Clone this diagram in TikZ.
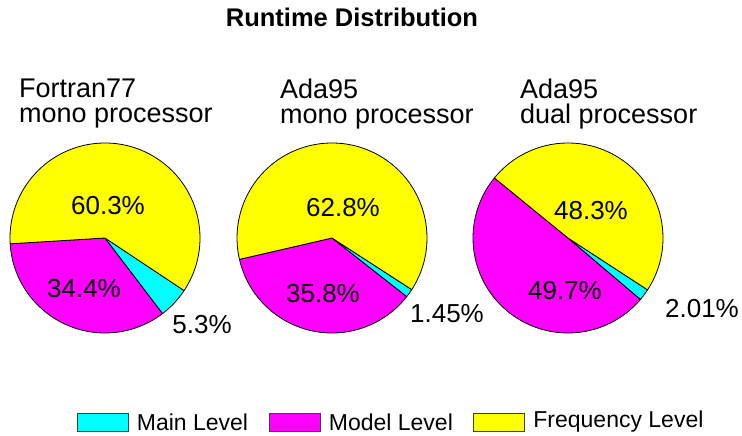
\documentclass[tikz,border=0pt]{standalone}
\usepackage{fontspec}
\setmainfont{Liberation Sans}
\usetikzlibrary{positioning}
\definecolor{mainc}{RGB}{0,255,255}
\definecolor{modelc}{RGB}{255,0,255}
\definecolor{freqc}{RGB}{255,255,0}
\tikzset{%
   slice/.style={
      draw=black,
      line width=0.8pt,
      line join=round
   },
   pct/.style={
      anchor=base,
      inner sep=0pt,
      font=\fontsize{26}{26}\selectfont
   },
   lbl/.style={
      anchor=north west,
      inner sep=0pt,
      align=left,
      font=\fontsize{27}{25}\selectfont
   },
   legbox/.style={
      draw=black!75,
      minimum width=51pt,
      minimum height=18pt,
      inner sep=0pt
   },
   legtext/.style={
      inner sep=0pt,
      font=\fontsize{23}{23}\selectfont
   },
}
% centre, start angle, end angle, colour
\newcommand{\pieslice}[4]{%
   \filldraw[slice, fill=#4] (#1) -- ++(#2:95pt)
      arc[start angle=#2, end angle=#3, radius=95pt] -- cycle;
}

\begin{document}
\begin{tikzpicture}[x=1pt, y=1pt]
   \useasboundingbox (0,0) rectangle (742,436);
   \node[anchor=base, font=\fontsize{25.5}{25.5}\selectfont\bfseries] (title) at (352,409) {Runtime Distribution};

   \coordinate (c1) at (105,198);
   \coordinate (c2) at (332,198);
   \coordinate (c3) at (568,198);

   % Fortran77 mono
   \pieslice{c1}{183.5}{307.3}{modelc}
   \pieslice{c1}{307.3}{326.4}{mainc}
   \pieslice{c1}{326.4}{543.5}{freqc}
   % Ada95 mono
   \pieslice{c2}{193}{321.9}{modelc}
   \pieslice{c2}{321.9}{327.1}{mainc}
   \pieslice{c2}{327.1}{553}{freqc}
   % Ada95 dual
   \pieslice{c3}{140.8}{319.7}{modelc}
   \pieslice{c3}{319.7}{326.9}{mainc}
   \pieslice{c3}{326.9}{500.8}{freqc}

   \node[lbl] (l1) at (19,357) {Fortran77\\mono processor};
   \node[lbl] (l2) at (280,357) {Ada95\\mono processor};
   \node[lbl] (l3) at (520,357) {Ada95\\dual processor};

   \node[pct] (f1) at (108,221) {60.3\%};
   \node[pct] (m1) at (84,138) {34.4\%};
   \node[pct] (a1) at (202,102) {5.3\%};
   \node[pct] (f2) at (343,219) {62.8\%};
   \node[pct] (m2) at (323,133) {35.8\%};
   \node[pct] (a2) at (447,113) {1.45\%};
   \node[pct] (f3) at (591,216) {48.3\%};
   \node[pct] (m3) at (565,136) {49.7\%};
   \node[pct] (a3) at (702,118) {2.01\%};

   % legend
   \node[legbox, fill=mainc] (kmain) at (102.5,14) {};
   \node[legtext, right=8.5pt of kmain] (tmain) {Main Level};
   \node[legbox, fill=modelc] (kmodel) at (294.5,14) {};
   \node[legtext, right=8.5pt of kmodel] (tmodel) {Model Level};
   \node[legbox, fill=freqc] (kfreq) at (499,14) {};
   \node[legtext, right=8.5pt of kfreq] (tfreq) {Frequency Level};
\end{tikzpicture}
\end{document}
